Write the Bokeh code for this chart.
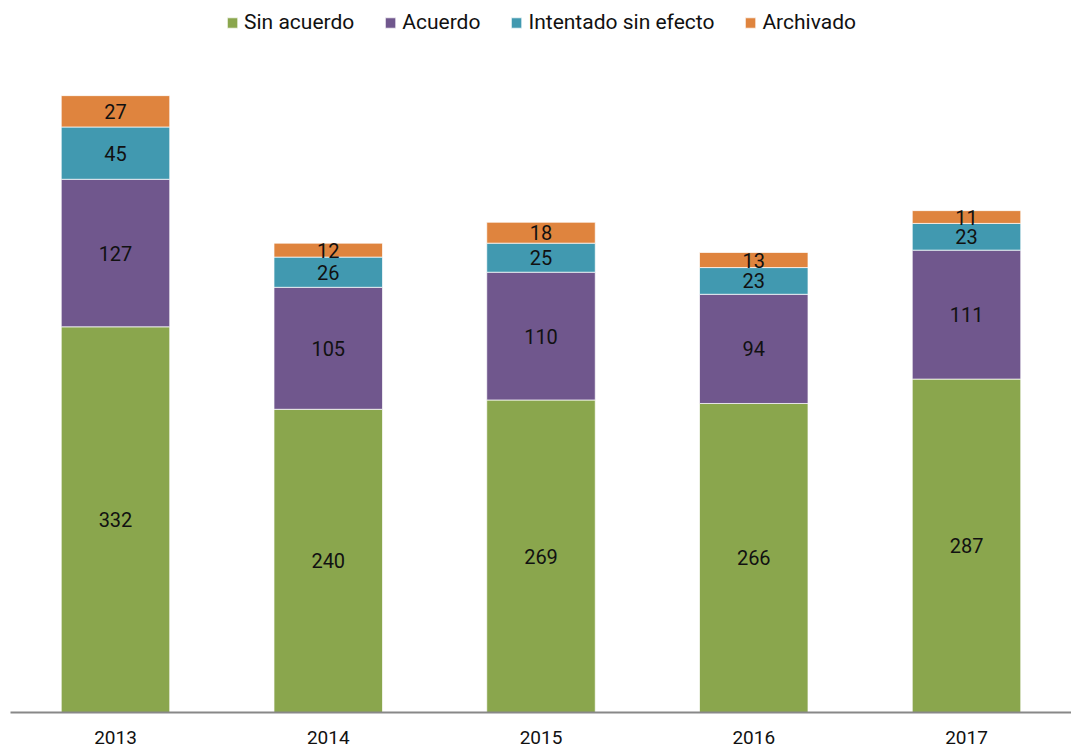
from bokeh.plotting import figure
from bokeh.models import ColumnDataSource, Legend, LegendItem, Range1d, FixedTicker
from bokeh.core.properties import value
from bokeh.embed import file_html
from bokeh.resources import INLINE

years = ["2013", "2014", "2015", "2016", "2017"]
series = ["Sin acuerdo", "Acuerdo", "Intentado sin efecto", "Archivado"]
colors = ["#8AA64D", "#70578D", "#4199B0", "#DF843E"]

# values as printed on the bars
sin_acuerdo = [332, 240, 269, 266, 287]
acuerdo = [127, 105, 110, 94, 111]
intentado = [45, 26, 25, 23, 23]
archivado = [27, 12, 18, 13, 11]

# bar heights as drawn in the reference (the 2014 green bar is drawn taller than its label)
sin_acuerdo_drawn = [332, 261, 269, 266, 287]

FONT = "Roboto"

xs = list(range(len(years)))
keys = ["s", "a", "i", "r"]
src = ColumnDataSource(dict(x=xs, s=sin_acuerdo_drawn, a=acuerdo, i=intentado, r=archivado))

p = figure(x_range=Range1d(-0.4935, 4.4935), y_range=(0, 606), frame_width=1061, frame_height=704,
           output_backend="svg", toolbar_location=None,
           min_border_left=10, min_border_right=0, min_border_top=8, min_border_bottom=38)

renderers = p.vbar_stack(keys, x="x", width=0.51, color=colors, source=src,
                         line_color="white", line_width=1, line_alpha=0.7)

label_vals = [sin_acuerdo, acuerdo, intentado, archivado]
drawn_vals = [sin_acuerdo_drawn, acuerdo, intentado, archivado]
lx, ly, lt = [], [], []
for j in xs:
    base = 0
    for k in range(4):
        h = drawn_vals[k][j]
        lx.append(j)
        ly.append(base + h / 2)
        lt.append(str(label_vals[k][j]))
        base += h
p.text(x=lx, y=ly, text=lt, text_align="center", text_baseline="middle",
       text_font=value(FONT), text_font_size="20px", text_color="#111111")

legend = Legend(items=[LegendItem(label=series[k], renderers=[renderers[k]]) for k in range(4)],
                orientation="horizontal", location="top_center",
                label_text_font=FONT, label_text_font_size="21px", label_text_color="#111111",
                glyph_width=13, glyph_height=13, label_standoff=6, spacing=29,
                padding=2, margin=0, border_line_alpha=0, background_fill_alpha=0)
p.add_layout(legend, "center")

p.yaxis.visible = False
p.grid.visible = False
p.outline_line_color = None
p.xaxis.ticker = FixedTicker(ticks=xs)
p.xaxis.major_label_overrides = {i: y for i, y in zip(xs, years)}
p.xaxis.axis_line_color = "#888888"
p.xaxis.axis_line_width = 2
p.xaxis.major_tick_line_color = None
p.xaxis.minor_tick_line_color = None
p.xaxis.major_label_standoff = 12
p.xaxis.major_label_text_font = FONT
p.xaxis.major_label_text_font_size = "19px"
p.xaxis.major_label_text_color = "#111111"

open("out.html", "w").write(file_html(p, INLINE))
